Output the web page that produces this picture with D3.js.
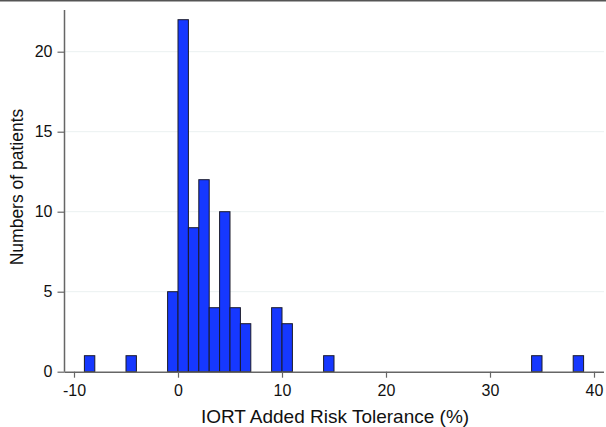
<!DOCTYPE html>
<html>
<head>
<meta charset="utf-8">
<script src="https://cdn.jsdelivr.net/npm/d3@7"></script>
<style>
  body { margin: 0; background: #fff; }
  text { font-family: "Liberation Sans", Arial, sans-serif; fill: #111; }
</style>
</head>
<body>
<div id="chart"></div>
<script>
// histogram bins: start of each 1-unit bin and its count
const binStarts = [-9, -5, -1, 0, 1, 2, 3, 4, 5, 6, 9, 10, 14, 34, 38];
const counts    = [ 1,  1,  5, 22, 9, 12, 4, 10, 4, 3, 4,  3,  1,  1,  1];
const xTicks = [-10, 0, 10, 20, 30, 40];
const yTicks = [0, 5, 10, 15, 20];

const W = 606, H = 427;
const svg = d3.select("#chart").append("svg")
  .attr("width", W).attr("height", H);

const x = d3.scaleLinear().domain([-10, 40]).range([74, 594]);
const y = d3.scaleLinear().domain([0, 20]).range([371.7, 51.7]);

// top border line
svg.append("line")
  .attr("x1", 0).attr("x2", W).attr("y1", 0.5).attr("y2", 0.5)
  .attr("stroke", "#555").attr("stroke-width", 2);

// gridlines
svg.append("g").selectAll("line")
  .data(yTicks.filter(d => d > 0))
  .join("line")
  .attr("x1", 65).attr("x2", 604)
  .attr("y1", d => y(d)).attr("y2", d => y(d))
  .attr("stroke", "#eaf1f1").attr("stroke-width", 1);

// bars
svg.append("g").selectAll("rect")
  .data(binStarts.map((s, i) => ({ s, c: counts[i] })))
  .join("rect")
  .attr("x", d => x(d.s))
  .attr("width", d => x(d.s + 1) - x(d.s))
  .attr("y", d => y(d.c))
  .attr("height", d => y(0) - y(d.c))
  .attr("fill", "#1638ff")
  .attr("stroke", "#1a1a2a")
  .attr("stroke-width", 1);

// axes
const fmt = d => String(d);
const xAxis = svg.append("g")
  .attr("transform", `translate(0,${y(0)})`)
  .call(d3.axisBottom(x).tickValues(xTicks).tickFormat(fmt).tickSize(6).tickPadding(7));
xAxis.select(".domain").attr("d", `M64.5,0.5H604`);

const yAxis = svg.append("g")
  .attr("transform", "translate(64.5,0)")
  .call(d3.axisLeft(y).tickValues(yTicks).tickFormat(fmt).tickSize(7).tickPadding(5));
yAxis.select(".domain").attr("d", `M0,10V${y(0)}`);

svg.selectAll(".domain").attr("stroke", "#666").attr("stroke-width", 1.5);
svg.selectAll(".tick line").attr("stroke", "#666").attr("stroke-width", 1.2);
svg.selectAll(".tick text")
  .style("font-family", '"Liberation Sans", Arial, sans-serif')
  .style("font-size", "16px").attr("fill", "#111");

// axis titles
svg.append("text")
  .attr("x", 335).attr("y", 423)
  .attr("text-anchor", "middle")
  .style("font-size", "19px")
  .text("IORT Added Risk Tolerance (%)");

svg.append("text")
  .attr("transform", "translate(23,187) rotate(-90)")
  .attr("text-anchor", "middle")
  .style("font-size", "17.5px")
  .text("Numbers of patients");
</script>
</body>
</html>
